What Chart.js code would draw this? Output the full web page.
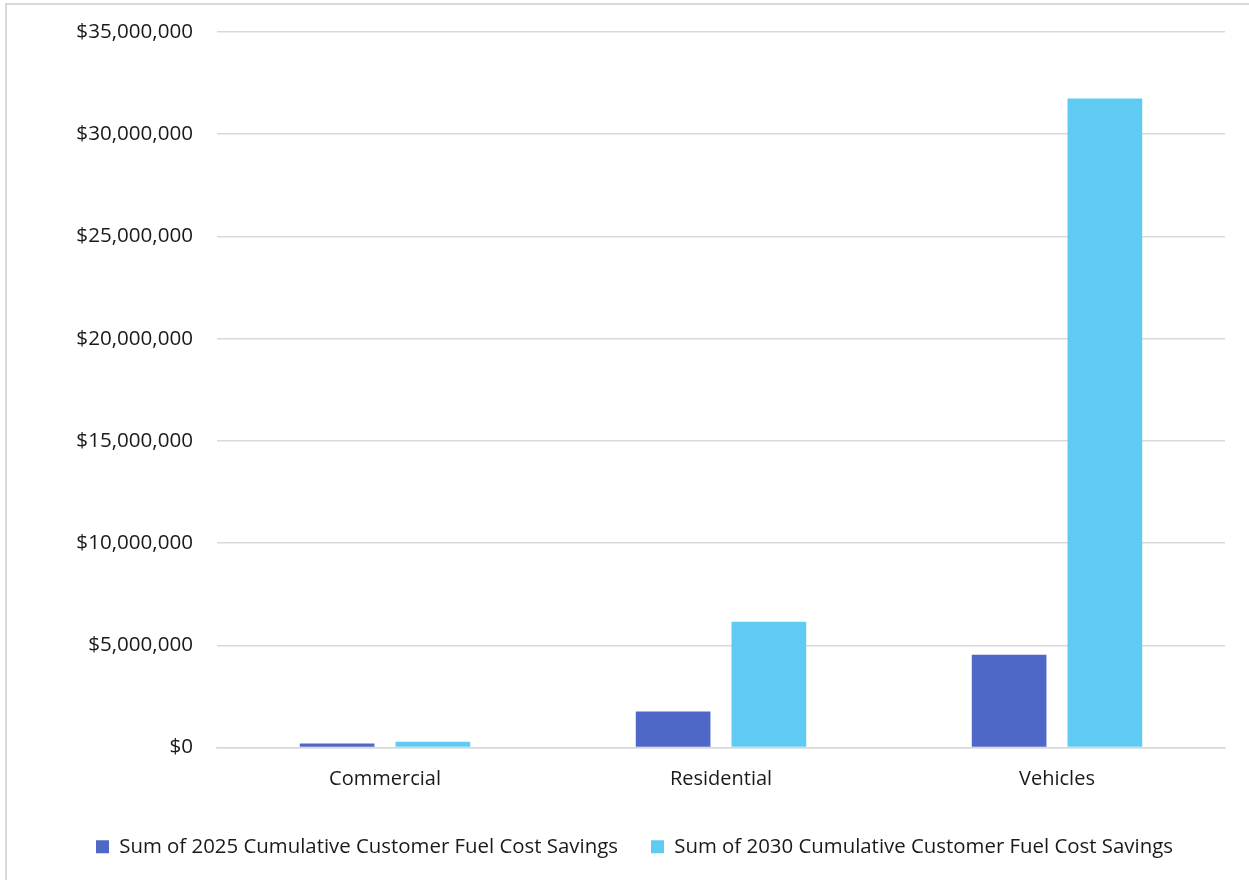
<!DOCTYPE html>
<html>
<head>
<meta charset="utf-8">
<script src="https://cdn.jsdelivr.net/npm/chart.js@4"></script>
<style>
  html, body { margin: 0; padding: 0; background: #fff; }
  #wrap { position: relative; width: 1249px; height: 880px; }
  #frame { position: absolute; left: 5px; top: 3px; width: 1300px; height: 900px;
           border-left: 2px solid #d9d9d9; border-top: 2px solid #d9d9d9; pointer-events: none; }
  canvas { position: absolute; left: 0; top: 0; }
</style>
</head>
<body>
<div id="wrap">
  <canvas id="chart" width="1249" height="880"></canvas>
  <div id="frame"></div>
</div>
<script>
// Customer fuel cost savings by sector
const categories = ['Commercial', 'Residential', 'Vehicles'];
const savings2025 = [200000, 1760000, 4540000];
const savings2030 = [290000, 6150000, 31750000];
const seriesNames = [
  'Sum of 2025 Cumulative Customer Fuel Cost Savings',
  'Sum of 2030 Cumulative Customer Fuel Cost Savings'
];
const yTickValues = [0, 5000000, 10000000, 15000000, 20000000, 25000000, 30000000, 35000000];

const FONT = '"Open Sans", "Liberation Sans", sans-serif';
const TEXT = '#1a1a1a';
const GRID = '#d9d9d9';

const money = v => '$' + Number(v).toLocaleString('en-US');

new Chart(document.getElementById('chart'), {
  type: 'bar',
  data: {
    labels: categories,
    datasets: [
      { label: seriesNames[0], data: savings2025, backgroundColor: '#4f67c7',
        categoryPercentage: 0.57, barPercentage: 0.78 },
      { label: seriesNames[1], data: savings2030, backgroundColor: '#60cbf2',
        categoryPercentage: 0.57, barPercentage: 0.78 }
    ]
  },
  options: {
    responsive: false,
    animation: false,
    layout: { padding: { left: 44, right: 24, top: 32, bottom: 13 } },
    plugins: {
      tooltip: { enabled: false },
      legend: {
        position: 'bottom',
        labels: {
          font: { family: FONT, size: 20.4 },
          color: TEXT,
          boxWidth: 13,
          boxHeight: 13,
          padding: 33
        }
      }
    },
    scales: {
      x: {
        grid: { display: false },
        border: { color: GRID, width: 1.5 },
        ticks: { font: { family: FONT, size: 20 }, color: TEXT, padding: 12 }
      },
      y: {
        min: 0,
        max: 35000000,
        afterBuildTicks: s => { s.ticks = yTickValues.map(v => ({ value: v })); },
        afterFit: s => { s.width = 173; s.paddingTop = 0; s.paddingBottom = 0; },
        grid: { color: GRID, lineWidth: 1.5, drawTicks: false },
        border: { display: false },
        ticks: {
          font: { family: FONT, size: 20.6 },
          color: TEXT,
          padding: 24,
          callback: v => money(v)
        }
      }
    }
  }
});
</script>
</body>
</html>
